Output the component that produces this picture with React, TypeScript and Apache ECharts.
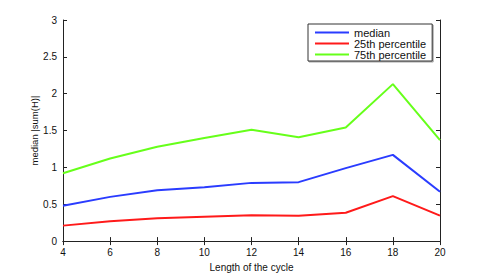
import React, { useEffect, useRef } from "react";
import * as echarts from "echarts";

const cycleLengths = [4, 6, 8, 10, 12, 14, 16, 18, 20];
const medianValues = [0.48, 0.6, 0.69, 0.73, 0.79, 0.8, 0.99, 1.17, 0.67];
const p25Values = [0.21, 0.27, 0.31, 0.33, 0.35, 0.345, 0.385, 0.61, 0.345];
const p75Values = [0.92, 1.12, 1.28, 1.4, 1.51, 1.41, 1.54, 2.13, 1.37];

const seriesNames = ["median", "25th percentile", "75th percentile"];
const seriesColors = ["#2a3cff", "#ff1a1a", "#66ff1a"];

const pairs = (vals: number[]) => cycleLengths.map((x, i) => [x, vals[i]]);

export default function App() {
  const ref = useRef<HTMLDivElement>(null);
  useEffect(() => {
    if (!ref.current) return;
    const chart = echarts.init(ref.current, null, { renderer: "svg" });
    const font = "Liberation Sans, Arial, sans-serif";
    const axisLine = { show: true, lineStyle: { color: "#222", width: 1 } };
    const tick = { show: true, inside: true, length: 4, lineStyle: { color: "#222" } };
    chart.setOption({
      animation: false,
      backgroundColor: "#fff",
      grid: { left: 63, top: 20, width: 377, height: 226, containLabel: false },
      legend: {
        orient: "vertical",
        left: 308,
        top: 24,
        data: seriesNames,
        icon: "rect",
        itemWidth: 34,
        itemHeight: 2,
        itemGap: 0,
        padding: [3, 6, 1, 7],
        borderColor: "#333",
        borderWidth: 1,
        backgroundColor: "#fff",
        shadowColor: "rgba(0,0,0,0.35)",
        shadowOffsetX: 1,
        shadowOffsetY: 1,
        shadowBlur: 1,
        textStyle: { fontFamily: font, fontSize: 11, color: "#111", lineHeight: 10.5, padding: [0, 0, 0, 0] },
      },
      xAxis: [
        {
          type: "value",
          min: 4,
          max: 20,
          interval: 2,
          name: "Length of the cycle",
          nameLocation: "middle",
          nameGap: 18,
          nameTextStyle: { fontFamily: font, fontSize: 10, color: "#111" },
          axisLine,
          axisTick: tick,
          splitLine: { show: false },
          axisLabel: { fontFamily: font, fontSize: 10, color: "#111", margin: 6 },
        },
        {
          type: "value",
          position: "top",
          min: 4,
          max: 20,
          interval: 2,
          axisLine,
          axisTick: tick,
          splitLine: { show: false },
          axisLabel: { show: false },
        },
      ],
      yAxis: [
        {
          type: "value",
          min: 0,
          max: 3,
          interval: 0.5,
          name: "median |sum(H)|",
          nameLocation: "middle",
          nameGap: 24,
          nameMoveOverlap: false,
          nameTextStyle: { fontFamily: font, fontSize: 9.5, color: "#111" },
          axisLine,
          axisTick: tick,
          splitLine: { show: false },
          axisLabel: { fontFamily: font, fontSize: 10, color: "#111", margin: 6 },
        },
        {
          type: "value",
          position: "right",
          min: 0,
          max: 3,
          interval: 0.5,
          axisLine,
          axisTick: tick,
          splitLine: { show: false },
          axisLabel: { show: false },
        },
      ],
      series: [
        { name: seriesNames[0], type: "line", data: pairs(medianValues), showSymbol: false, lineStyle: { color: seriesColors[0], width: 2 }, itemStyle: { color: seriesColors[0] } },
        { name: seriesNames[1], type: "line", data: pairs(p25Values), showSymbol: false, lineStyle: { color: seriesColors[1], width: 2 }, itemStyle: { color: seriesColors[1] } },
        { name: seriesNames[2], type: "line", data: pairs(p75Values), showSymbol: false, lineStyle: { color: seriesColors[2], width: 2 }, itemStyle: { color: seriesColors[2] } },
      ],
    });
    return () => chart.dispose();
  }, []);
  return <div ref={ref} style={{ position: "absolute", left: 0, top: 0, width: 485, height: 277 }} />;
}
